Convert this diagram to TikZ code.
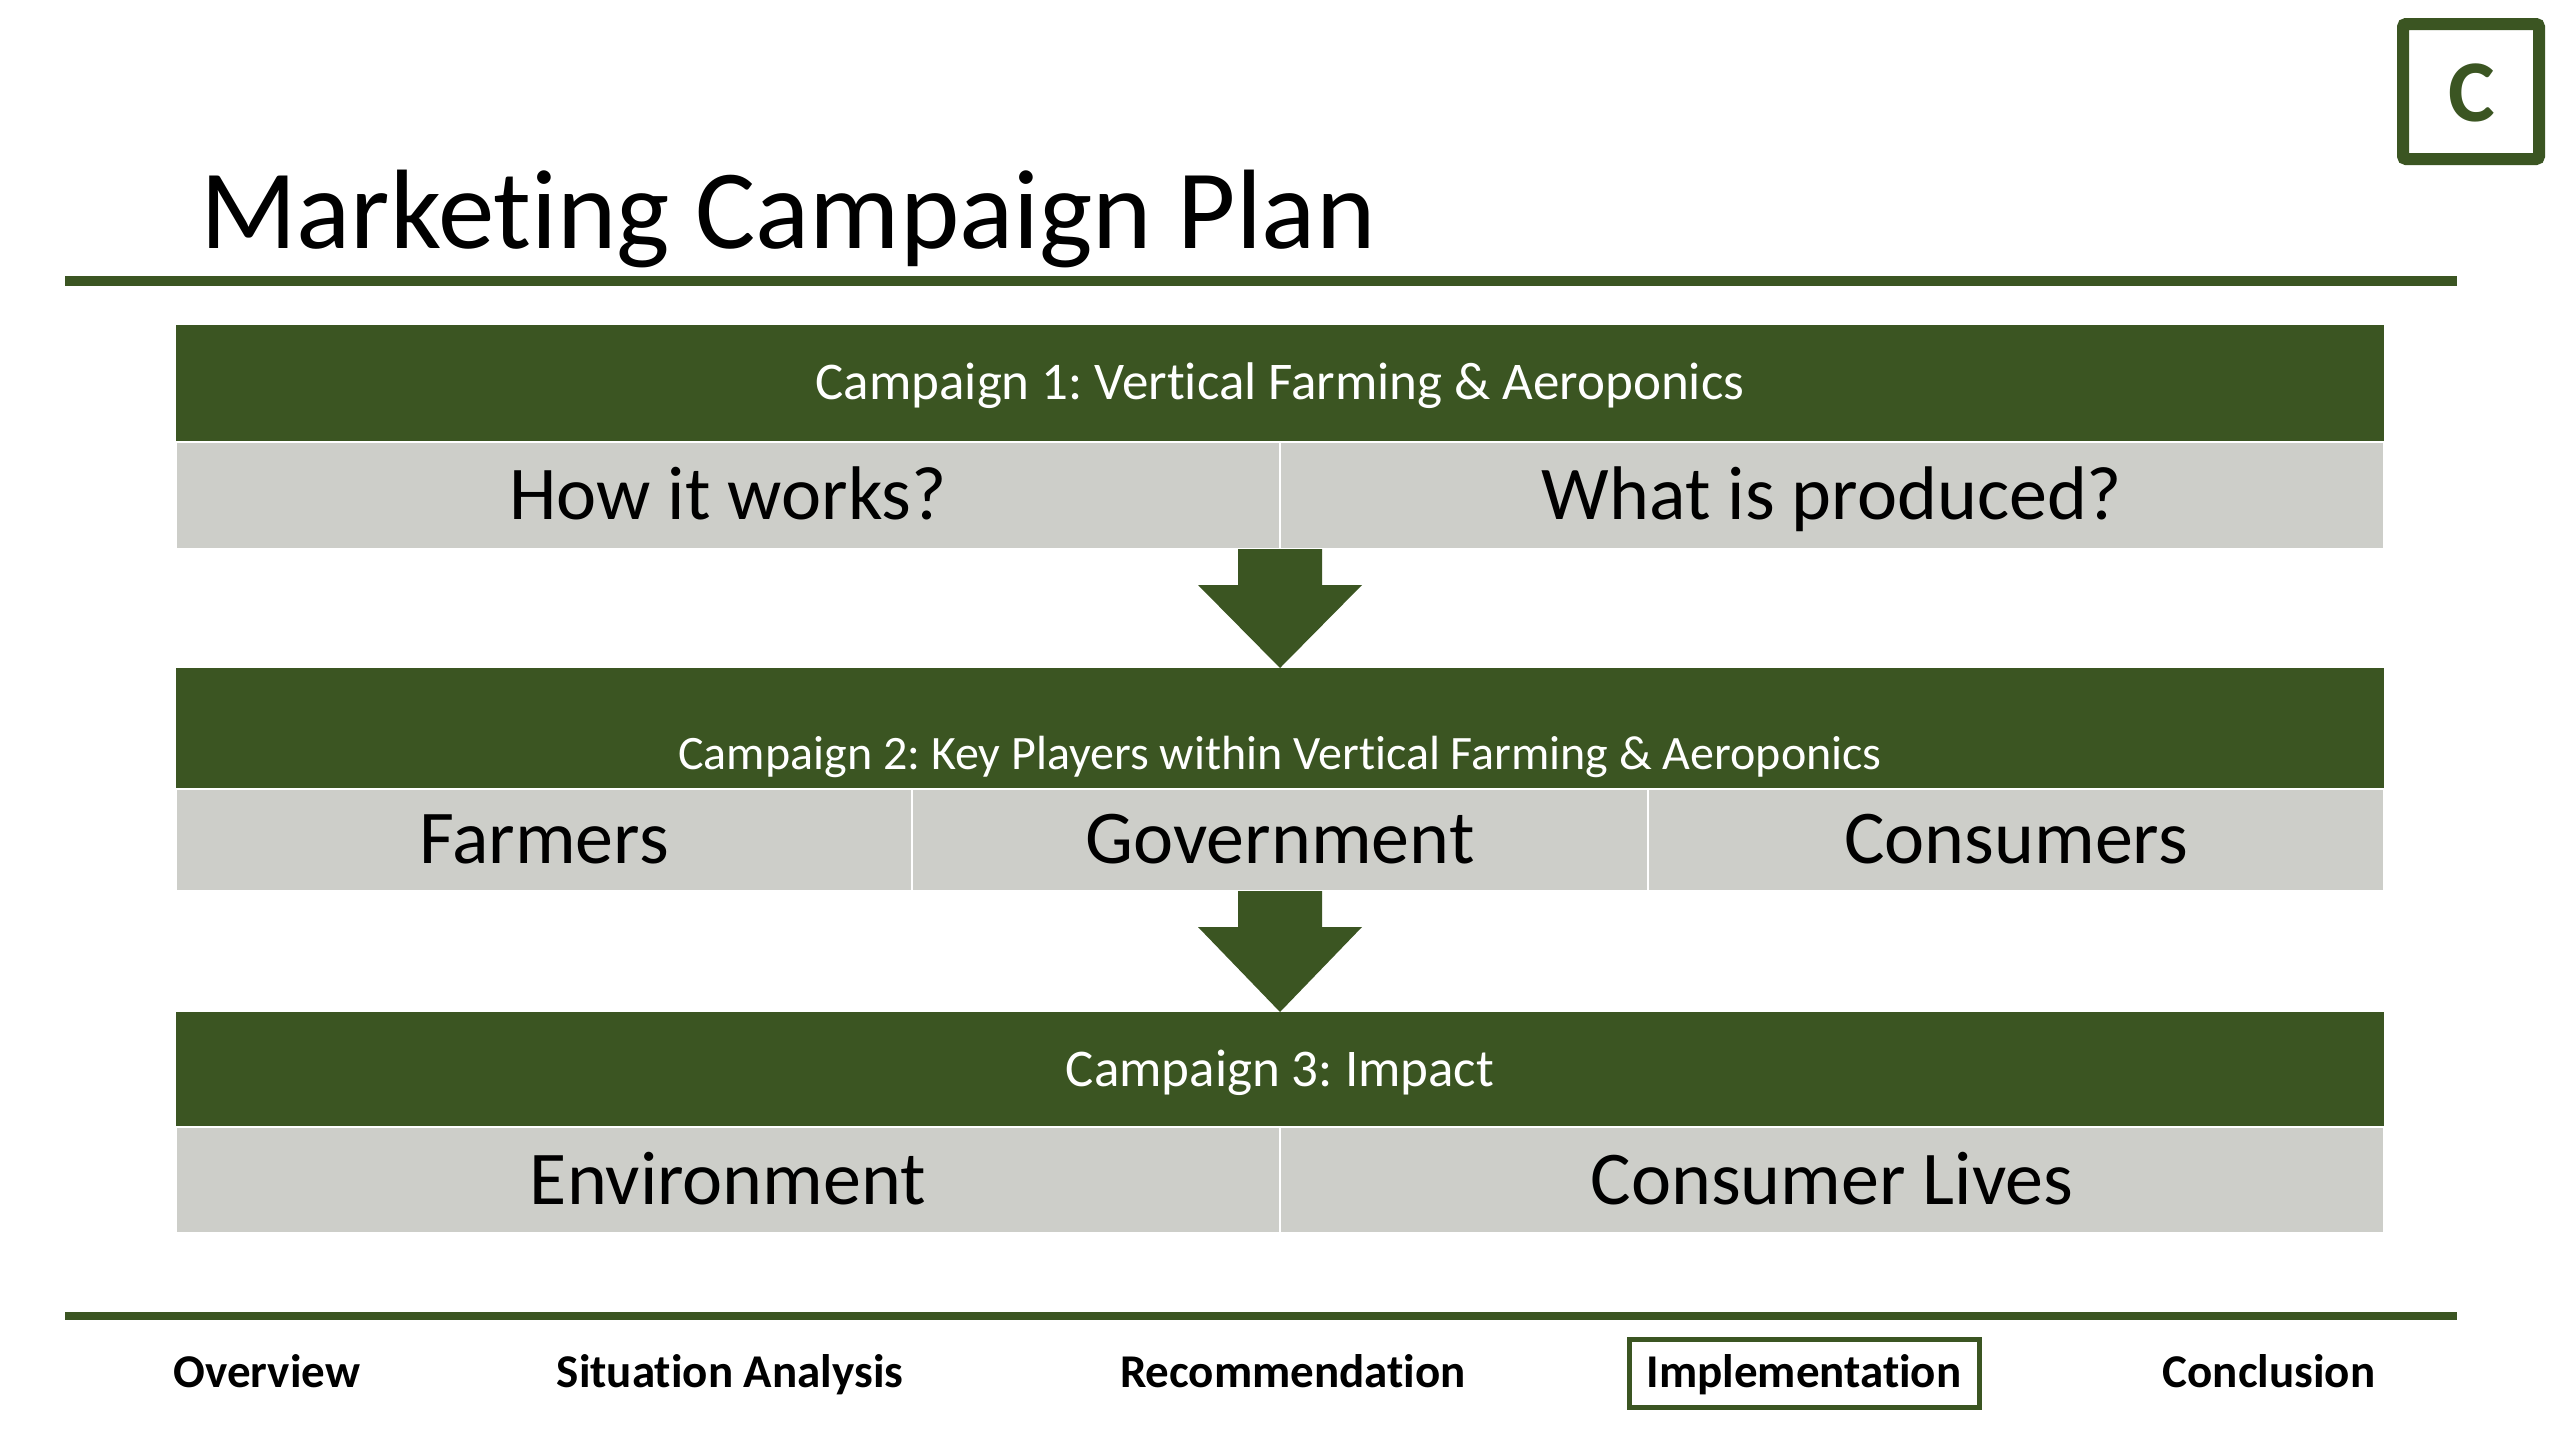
\documentclass[tikz,border=0pt]{standalone}
\usepackage{fontspec}
\setmainfont{Carlito}[Ligatures=NoCommon]
\usetikzlibrary{calc}
\definecolor{dgreen}{RGB}{59,85,34}
\definecolor{lgray}{RGB}{205,206,201}
\frenchspacing
\begin{document}
\begin{tikzpicture}[x=1pt,y=-1pt,
  bar/.style={fill=dgreen, draw=none, inner sep=0, outer sep=0, anchor=north west},
  cell/.style={fill=lgray, draw=white, line width=1.5pt, inner sep=0, outer sep=0, anchor=north west},
  celltext/.style={font=\fontsize{76}{80}\selectfont, anchor=base, inner sep=0},
  bartext/.style={font=\fontsize{53}{60}\selectfont, text=white, anchor=base, inner sep=0},
  navtext/.style={font=\bfseries\fontsize{47}{50}\selectfont, anchor=base, inner sep=0},
  rulestyle/.style={draw=dgreen, line width=10pt},
  bigarrow/.style={fill=dgreen, draw=none}]
\useasboundingbox (0,0) rectangle (2560,1440);
\fill[white] (0,0) rectangle (2560,1440);

% logo
\node[draw=dgreen, line width=12pt, rounded corners=3pt, minimum width=136, minimum height=135, inner sep=0] (logo) at (2471,91.5) {};
\node[font=\bfseries\fontsize{88}{90}\selectfont, text=dgreen, anchor=base, inner sep=0] (logoC) at (2472,121) {C};

% title
\node[font=\fontsize{113}{120}\selectfont, anchor=base west, inner sep=0] (title) at (200,248) {Marketing Campaign Plan};
\coordinate (tl) at (65,281);
\coordinate (tr) at (2457,281);
\draw[rulestyle] (tl) -- (tr);

% campaign 1
\node[bar, minimum width=2208, minimum height=117] (c1) at (176,325) {};
\node[bartext] (c1t) at (1280,399) {Campaign 1: Vertical Farming \& Aeroponics};
\node[cell, minimum width=1104, minimum height=107] (r1a) at (176,442) {};
\node[cell, minimum width=1104, minimum height=107] (r1b) at (1280,442) {};
\node[celltext] (r1at) at (728,519) {How it works?};
\node[celltext] (r1bt) at (1832,519) {What is produced?};

% campaign 2
\node[bar, minimum width=2208, minimum height=121] (c2) at (176,668) {};
\node[bartext, font=\fontsize{48}{54}\selectfont] (c2t) at (1280,769) {Campaign 2: Key Players within Vertical Farming \& Aeroponics};
\node[cell, minimum width=736, minimum height=102] (r2a) at (176,789) {};
\node[cell, minimum width=736, minimum height=102] (r2b) at (912,789) {};
\node[cell, minimum width=736, minimum height=102] (r2c) at (1648,789) {};
\node[celltext] (r2at) at (544,863) {Farmers};
\node[celltext] (r2bt) at (1280,863) {Government};
\node[celltext] (r2ct) at (2016,863) {Consumers};

% campaign 3
\node[bar, minimum width=2208, minimum height=115] (c3) at (176,1012) {};
\node[bartext] (c3t) at (1280,1086) {Campaign 3: Impact};
\node[cell, minimum width=1104, minimum height=106] (r3a) at (176,1127) {};
\node[cell, minimum width=1104, minimum height=106] (r3b) at (1280,1127) {};
\node[celltext] (r3at) at (728,1204) {Environment};
\node[celltext] (r3bt) at (1832,1204) {Consumer Lives};

% arrows
\fill[bigarrow] ($(r1a.south east)+(-42,0)$) -- ($(r1a.south east)+(-42,36)$) -- ($(r1a.south east)+(-82,36)$) -- (c2.north) -- ($(r1a.south east)+(82,36)$) -- ($(r1a.south east)+(42,36)$) -- ($(r1a.south east)+(42,0)$) -- cycle;
\fill[bigarrow] ($(r2b.south)+(-42,0)$) -- ($(r2b.south)+(-42,36)$) -- ($(r2b.south)+(-82,36)$) -- (c3.north) -- ($(r2b.south)+(82,36)$) -- ($(r2b.south)+(42,36)$) -- ($(r2b.south)+(42,0)$) -- cycle;

% bottom rule and navigation
\coordinate (bl) at (65,1316);
\coordinate (br) at (2457,1316);
\draw[rulestyle, line width=8pt] (bl) -- (br);
\node[navtext] (n1) at (267,1387) {Overview};
\node[navtext] (n2) at (730,1387) {Situation Analysis};
\node[navtext] (n3) at (1293,1387) {Recommendation};
\node[navtext] (n4) at (1804,1387) {Implementation};
\node[navtext] (n5) at (2269,1387) {Conclusion};
\node[draw=dgreen, line width=5pt, minimum width=350, minimum height=68, inner sep=0] (navbox) at (1804.5,1373.5) {};
\end{tikzpicture}
\end{document}
